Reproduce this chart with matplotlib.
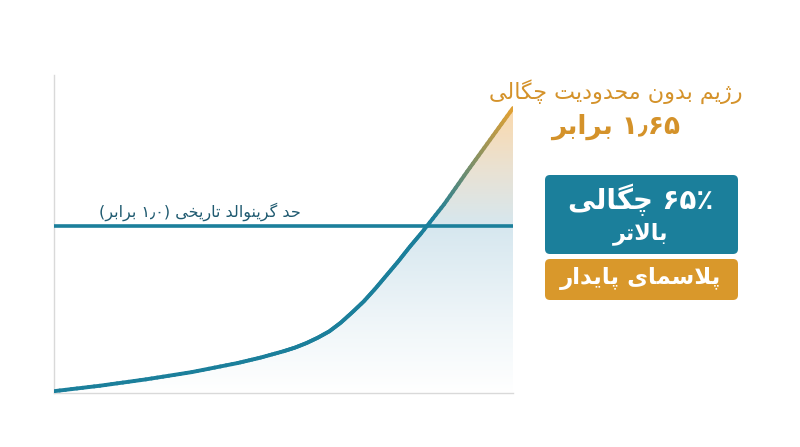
import numpy as np
import matplotlib
matplotlib.use('Agg')
import matplotlib.pyplot as plt
from matplotlib.collections import LineCollection
from matplotlib.patches import FancyBboxPatch
from matplotlib.colors import to_rgb

# density curve (x in arbitrary units, y in multiples of Greenwald limit)
density_x = [0, 1, 2, 3, 4, 4.5, 5, 5.25, 5.5, 5.75, 6, 6.25, 6.5, 6.75,
             7, 7.25, 7.5, 7.75, 8, 8.5, 9, 9.5, 10]
density_y = [0.09, 0.12, 0.155, 0.195, 0.245, 0.275, 0.31, 0.33, 0.355, 0.385,
             0.42, 0.468, 0.525, 0.585, 0.655, 0.73, 0.805, 0.885, 0.96,
             1.12, 1.30, 1.475, 1.65]
greenwald_limit = 1.0

label_regime = 'رژیم بدون محدودیت چگالی'
label_times = 'برابر'
value_peak = '۱٫۶۵'
value_limit = '۱٫۰'
label_limit = 'حد گرینوالد تاریخی'
box1_value = '۶۵٪'
box1_word = 'چگالی'
box1_line2 = 'بالاتر'
box2_text = 'پلاسمای پایدار'

TEAL = '#1b7f9b'
ORANGE = '#d9982b'
TEXT_ORANGE = '#d4922a'

# --- tiny arabic/persian shaper (matplotlib has no complex text layout) ---
FORMS = {  # isolated, final, initial, medial
    'ا': ('\uFE8D', '\uFE8E', None, None),
    'د': ('\uFEA9', '\uFEAA', None, None),
    'ر': ('\uFEAD', '\uFEAE', None, None),
    'ز': ('\uFEAF', '\uFEB0', None, None),
    'ژ': ('\uFB8A', '\uFB8B', None, None),
    'و': ('\uFEED', '\uFEEE', None, None),
    'ب': ('\uFE8F', '\uFE90', '\uFE91', '\uFE92'),
    'پ': ('\uFB56', '\uFB57', '\uFB58', '\uFB59'),
    'ت': ('\uFE95', '\uFE96', '\uFE97', '\uFE98'),
    'ح': ('\uFEA1', '\uFEA2', '\uFEA3', '\uFEA4'),
    'خ': ('\uFEA5', '\uFEA6', '\uFEA7', '\uFEA8'),
    'چ': ('\uFB7A', '\uFB7B', '\uFB7C', '\uFB7D'),
    'س': ('\uFEB1', '\uFEB2', '\uFEB3', '\uFEB4'),
    'ک': ('\uFB8E', '\uFB8F', '\uFB90', '\uFB91'),
    'گ': ('\uFB92', '\uFB93', '\uFB94', '\uFB95'),
    'ل': ('\uFEDD', '\uFEDE', '\uFEDF', '\uFEE0'),
    'م': ('\uFEE1', '\uFEE2', '\uFEE3', '\uFEE4'),
    'ن': ('\uFEE5', '\uFEE6', '\uFEE7', '\uFEE8'),
    'ه': ('\uFEE9', '\uFEEA', '\uFEEB', '\uFEEC'),
    'ی': ('\uFBFC', '\uFBFD', '\uFBFE', '\uFBFF'),
}


def dual(c):
    return c in FORMS and FORMS[c][2] is not None


def rtl(text):
    out = []
    i = 0
    n = len(text)
    while i < n:
        c = text[i]
        if c not in FORMS:
            out.append(c)
            i += 1
            continue
        prev = text[i - 1] if i > 0 else ''
        joins_prev = dual(prev)
        if c == 'ل' and i + 1 < n and text[i + 1] == 'ا':
            out.append('\uFEFC' if joins_prev else '\uFEFB')
            i += 2
            continue
        nxt = text[i + 1] if i + 1 < n else ''
        joins_next = dual(c) and nxt in FORMS
        iso, fin, ini, med = FORMS[c]
        if joins_prev and joins_next:
            out.append(med)
        elif joins_prev:
            out.append(fin)
        elif joins_next:
            out.append(ini)
        else:
            out.append(iso)
        i += 1
    return ''.join(out)[::-1]


plt.rcParams['font.family'] = ['DejaVu Sans']

W, H = 800, 447
fig = plt.figure(figsize=(8, 4.47), dpi=100)
fig.patch.set_facecolor('white')

# main plot area in pixel terms
ax_l, ax_r, ax_t, ax_b = 54, 513, 75, 393
ax = fig.add_axes([ax_l / W, 1 - ax_b / H, (ax_r - ax_l) / W, (ax_b - ax_t) / H])
ymin, ymax = 0.08, 1.832
ax.set_xlim(0, 10)
ax.set_ylim(ymin, ymax)
ax.set_xticks([])
ax.set_yticks([])
for s in ['top', 'right']:
    ax.spines[s].set_visible(False)
for s in ['left', 'bottom']:
    ax.spines[s].set_color('#d9d9d9')
    ax.spines[s].set_linewidth(1.0)

# gradient fill under the curve
stops_y = [ymin, 0.5, 1.0, 1.3, 1.65, ymax]
stops_c = [to_rgb(c) for c in ['#ffffff', '#eef5f8', '#d6e7ef', '#e9e2d4', '#fbd9ac', '#fbd9ac']]
gy = np.linspace(ymin, ymax, 300)
grad = np.zeros((300, 1, 3))
for k in range(3):
    grad[:, 0, k] = np.interp(gy, stops_y, [c[k] for c in stops_c])
poly = ax.fill_between(density_x, ymin, density_y, color='none', lw=0)
im = ax.imshow(grad, extent=[0, 10, ymin, ymax], origin='lower', aspect='auto', zorder=1)
im.set_clip_path(poly.get_paths()[0], transform=ax.transData)

# greenwald limit line
ax.axhline(greenwald_limit, color=TEAL, lw=2.6, zorder=3)

# curve: teal turning to orange near the top
segs, cols = [], []
c_teal, c_or = np.array(to_rgb(TEAL)), np.array(to_rgb('#e3a132'))
for i in range(len(density_x) - 1):
    for t0 in np.linspace(0, 1, 8, endpoint=False):
        t1 = t0 + 1 / 8
        x0 = density_x[i] + (density_x[i + 1] - density_x[i]) * t0
        x1 = density_x[i] + (density_x[i + 1] - density_x[i]) * t1
        y0 = density_y[i] + (density_y[i + 1] - density_y[i]) * t0
        y1 = density_y[i] + (density_y[i + 1] - density_y[i]) * t1
        segs.append([(x0, y0), (x1, y1)])
        f = np.clip(((y0 + y1) / 2 - 1.05) / 0.6, 0, 1)
        cols.append(c_teal * (1 - f) + c_or * f)
lc = LineCollection(segs, colors=cols, linewidths=2.8, capstyle='round',
                    joinstyle='round', zorder=4)
ax.add_collection(lc)

# overlay in pixel coordinates for annotations
ov = fig.add_axes([0, 0, 1, 1], zorder=5)
ov.set_xlim(0, W)
ov.set_ylim(H, 0)
ov.axis('off')
ov.patch.set_alpha(0)

ov.text(200, 212, '(' + rtl(label_times) + ' ' + value_limit + ') ' + rtl(label_limit),
        color='#1f5a70', fontsize=11.5, ha='center', va='center')

ov.text(616, 92, rtl(label_regime), color=TEXT_ORANGE, fontsize=16,
        ha='center', va='center')
ov.text(616, 127, rtl(label_times) + ' ' + value_peak, color=TEXT_ORANGE, fontsize=19,
        fontweight='bold', ha='center', va='center')

ov.add_patch(FancyBboxPatch((545, 175), 193, 79, boxstyle='round,pad=0,rounding_size=5',
                            fc=TEAL, ec='none'))
ov.add_patch(FancyBboxPatch((545, 259), 193, 41, boxstyle='round,pad=0,rounding_size=5',
                            fc=ORANGE, ec='none'))
ov.text(641, 200, rtl(box1_word) + ' ' + box1_value, color='white', fontsize=20,
        fontweight='bold', ha='center', va='center')
ov.text(641, 234, rtl(box1_line2), color='white', fontsize=16,
        fontweight='bold', ha='center', va='center')
ov.text(641, 279, rtl(box2_text), color='white', fontsize=16.5,
        fontweight='bold', ha='center', va='center')

fig.savefig('out.png', dpi=100)
